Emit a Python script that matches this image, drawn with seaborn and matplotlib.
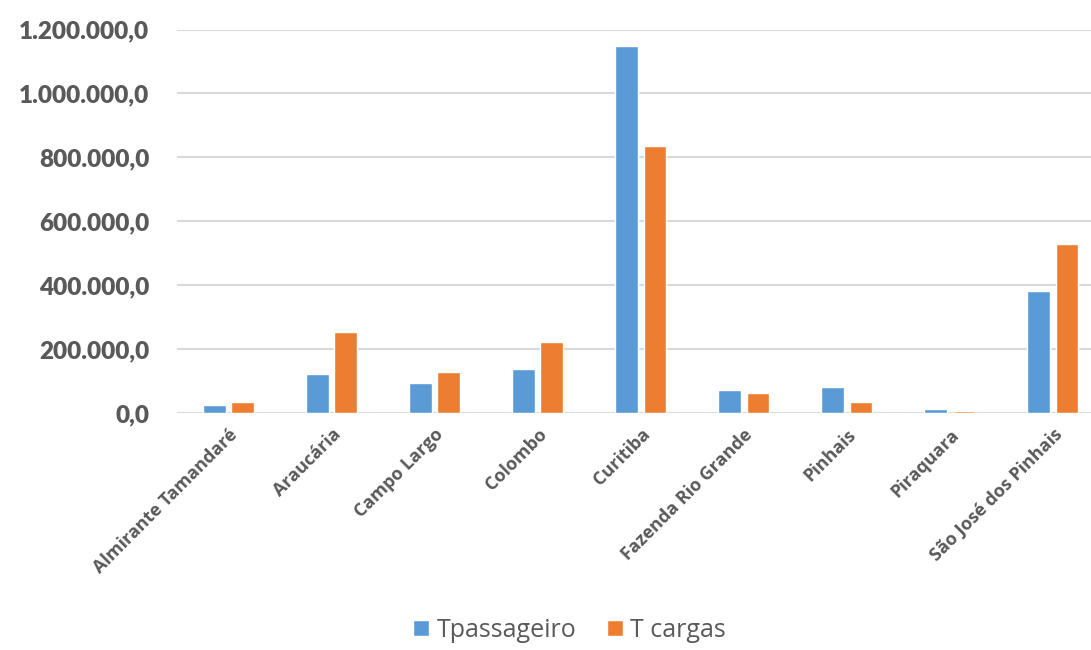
import pandas as pd
import seaborn as sns
import matplotlib.pyplot as plt
from matplotlib.ticker import FuncFormatter

# ---- data ----
municipios = ["Almirante Tamandaré", "Araucária", "Campo Largo", "Colombo", "Curitiba",
              "Fazenda Rio Grande", "Pinhais", "Piraquara", "São José dos Pinhais"]
t_passageiro = [26000, 123000, 94000, 137500, 1147000, 71000, 82000, 13500, 381000]
t_cargas = [34000, 252000, 129000, 222000, 835000, 62500, 35000, 7000, 528000]
series = ["Tpassageiro", "T cargas"]
# ----------------------------------

df = pd.DataFrame({
    "municipio": municipios * 2,
    "serie": [series[0]] * len(municipios) + [series[1]] * len(municipios),
    "valor": t_passageiro + t_cargas,
})

sns.set_theme(style="white")
plt.rcParams["font.family"] = ["Open Sans", "DejaVu Sans"]
gray = "#595959"

fig = plt.figure(figsize=(10.91, 6.5), dpi=100)
ax = fig.add_axes([0.1622, 0.3646, 0.8378, 0.59])

sns.barplot(data=df, x="municipio", y="valor", hue="serie",
            palette=["#5B9BD5", "#ED7D31"], width=0.55, gap=0.2,
            saturation=1, errorbar=None, ax=ax, zorder=3)

ax.set_ylim(0, 1200000)
ax.set_xlim(-0.5, 8.37)
ax.set_yticks(range(0, 1200001, 200000))
ax.yaxis.set_major_formatter(FuncFormatter(
    lambda v, p: f"{v:,.1f}".replace(",", "X").replace(".", ",").replace("X", ".")))
ax.grid(axis="y", color="#D9D9D9", linewidth=1.5, zorder=0)
ax.set_axisbelow(True)
for s in ax.spines.values():
    s.set_visible(False)
ax.tick_params(axis="both", length=0)
ax.tick_params(axis="y", pad=20)
ax.tick_params(axis="x", pad=9)
ax.set_xlabel("")
ax.set_ylabel("")

for lab in ax.get_yticklabels():
    lab.set_fontfamily(["Lato", "DejaVu Sans"])
    lab.set_fontweight("heavy")
    lab.set_fontsize(17.5)
    lab.set_color(gray)

for lab in ax.get_xticklabels():
    lab.set_fontfamily(["Open Sans", "DejaVu Sans"])
    lab.set_rotation(45)
    lab.set_ha("right")
    lab.set_rotation_mode("anchor")
    lab.set_fontweight("bold")
    lab.set_fontsize(13)
    lab.set_color(gray)

ax.legend_.remove()
handles, labels = ax.get_legend_handles_labels()
leg = fig.legend(handles, labels, loc="center", bbox_to_anchor=(0.522, 0.03),
                 ncol=2, frameon=False, fontsize=18, handlelength=0.64,
                 handleheight=0.64, handletextpad=0.3, columnspacing=1.2)
for t in leg.get_texts():
    t.set_color(gray)

fig.savefig("out.png", dpi=100)
